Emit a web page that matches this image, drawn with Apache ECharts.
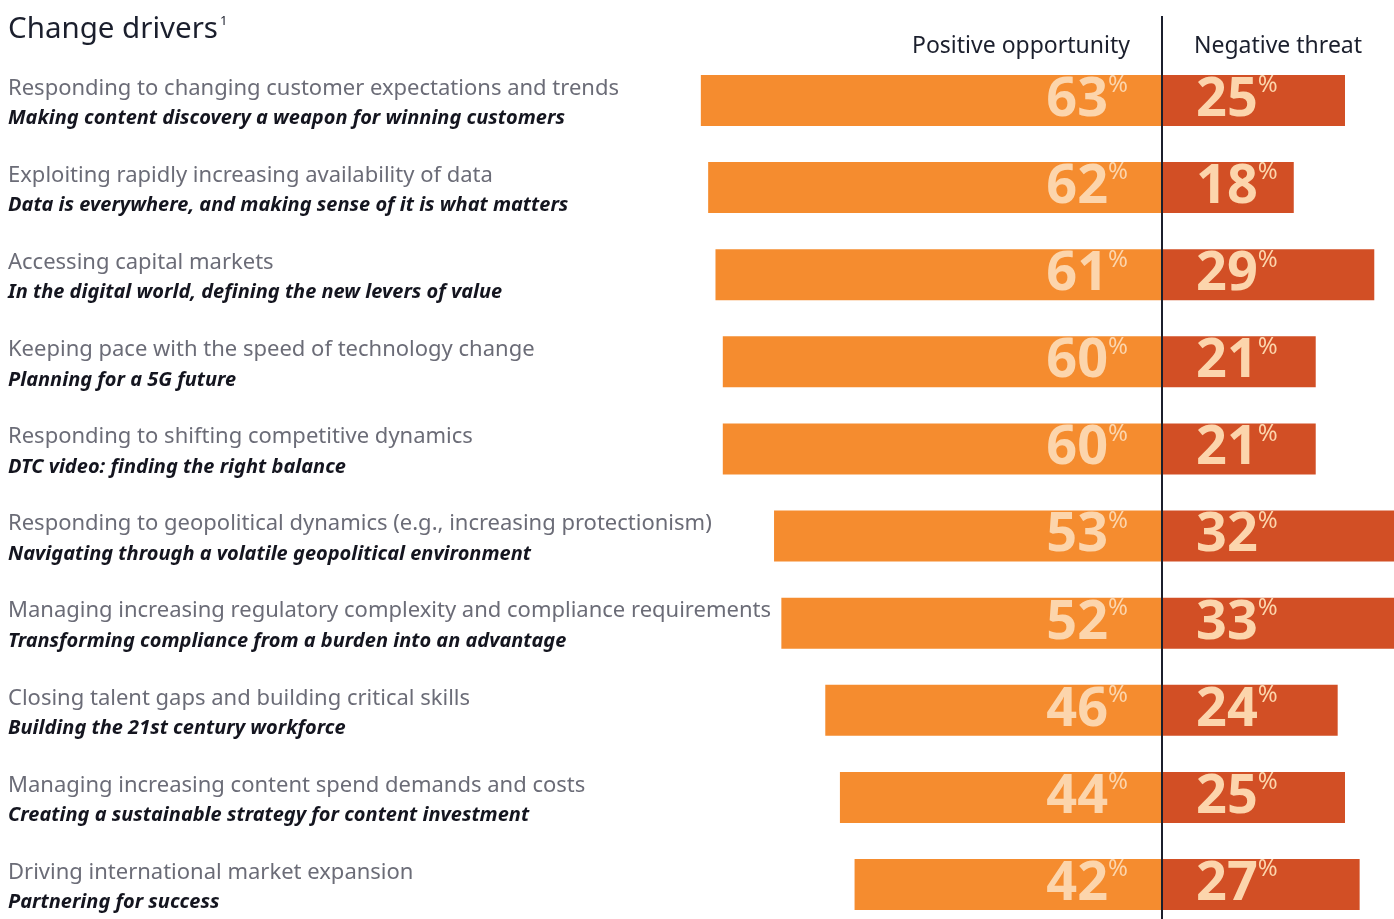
<!DOCTYPE html>
<html><head><meta charset="utf-8">
<script src="https://cdn.jsdelivr.net/npm/echarts@6/dist/echarts.min.js"></script>
<style>html,body{margin:0;padding:0;background:#fff}#c{width:1394px;height:919px}</style>
</head><body><div id="c"></div>
<script>
const drivers = [
  "Responding to changing customer expectations and trends",
  "Exploiting rapidly increasing availability of data",
  "Accessing capital markets",
  "Keeping pace with the speed of technology change",
  "Responding to shifting competitive dynamics",
  "Responding to geopolitical dynamics (e.g., increasing protectionism)",
  "Managing increasing regulatory complexity and compliance requirements",
  "Closing talent gaps and building critical skills",
  "Managing increasing content spend demands and costs",
  "Driving international market expansion"
];
const subtitles = [
  "Making content discovery a weapon for winning customers",
  "Data is everywhere, and making sense of it is what matters",
  "In the digital world, defining the new levers of value",
  "Planning for a 5G future",
  "DTC video: finding the right balance",
  "Navigating through a volatile geopolitical environment",
  "Transforming compliance from a burden into an advantage",
  "Building the 21st century workforce",
  "Creating a sustainable strategy for content investment",
  "Partnering for success"
];
const positive = [63, 62, 61, 60, 60, 53, 52, 46, 44, 42];
const negative = [25, 18, 29, 21, 21, 32, 33, 24, 25, 27];
const headers = ["Positive opportunity", "Negative threat"];

const chart = echarts.init(document.getElementById('c'), null, {renderer: 'canvas'});
const FONT = '"Noto Sans", "Open Sans", sans-serif';
const labelRich = {
  n: {fontSize: 54, fontWeight: 'bold', color: '#FCD5AC', fontFamily: FONT, lineHeight: 54},
  p: {fontSize: 24, color: '#FCD5AC', fontFamily: FONT, verticalAlign: 'top', lineHeight: 54, padding: [0,0,16,0]}
};
const cats = drivers.map((d, i) => d + '\n' + subtitles[i]);
chart.setOption({
  animation: false,
  backgroundColor: '#ffffff',
  title: {
    text: '{t|Change drivers}{s|1}',
    left: 3, top: 10,
    textStyle: {
      fontWeight: 'normal',
      rich: {
        t: {fontSize: 29.5, color: '#1b1f2d', fontFamily: FONT, fontWeight: 'normal'},
        s: {fontSize: 13, color: '#1b1f2d', fontFamily: FONT, fontWeight: 'normal', verticalAlign: 'top', padding: [0,0,14,2]}
      }
    }
  },
  grid: {left: 649.6, right: 0, top: 100.5, height: 784, containLabel: false},
  xAxis: {
    type: 'value', min: -70, max: (1394 - 1162) / 7.32, show: false
  },
  yAxis: {
    type: 'category', data: cats, inverse: true, boundaryGap: false,
    axisLine: {show: false}, axisTick: {show: false}, splitLine: {show: false},
    axisLabel: {
      align: 'left', margin: 641.6, padding: [6, 0, 0, 0],
      formatter: function (v) {
        const parts = v.split('\n');
        return '{a|' + parts[0] + '}\n{b|' + parts[1] + '}';
      },
      rich: {
        a: {fontSize: 22, color: '#6b6c77', fontFamily: FONT, lineHeight: 30},
        b: {fontSize: 20, color: '#14151f', fontFamily: FONT, fontWeight: 'bold', fontStyle: 'italic', lineHeight: 30}
      }
    }
  },
  series: [
    {
      type: 'bar', name: headers[0], stack: 's', barWidth: 51,
      data: positive.map(v => -v),
      itemStyle: {color: '#F58C2F'},
      label: {
        show: true, position: 'insideRight', distance: 34,
        formatter: p => '{n|' + Math.abs(p.value) + '}{p|%}',
        rich: labelRich
      }
    },
    {
      type: 'bar', name: headers[1], stack: 's', barWidth: 51,
      data: negative,
      itemStyle: {color: '#D24F25'},
      label: {
        show: true, position: 'insideLeft', distance: 34,
        formatter: p => '{n|' + p.value + '}{p|%}',
        rich: labelRich
      }
    }
  ]
});
const x0 = chart.convertToPixel({xAxisIndex: 0}, 0);
chart.setOption({
  graphic: [
    {type: 'line', shape: {x1: x0, y1: 16, x2: x0, y2: 919}, style: {stroke: '#1b1f2d', lineWidth: 2}, z: 100},
    {type: 'text', x: 1021, y: 46, style: {text: headers[0], font: '23px ' + FONT, fill: '#1b1f2d', textAlign: 'center', textVerticalAlign: 'middle'}},
    {type: 'text', x: 1278, y: 46, style: {text: headers[1], font: '23px ' + FONT, fill: '#1b1f2d', textAlign: 'center', textVerticalAlign: 'middle'}}
  ]
});
</script></body></html>
